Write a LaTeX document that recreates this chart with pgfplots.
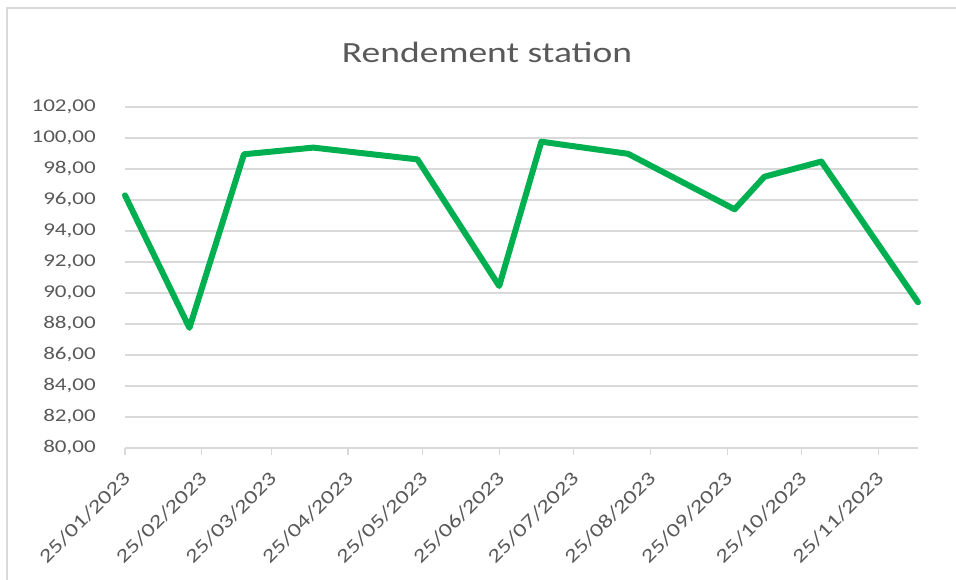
\documentclass[border=0pt]{standalone}
\usepackage{pgfplots}
\pgfplotsset{compat=1.18}
\usepackage{fontspec}
\setmainfont{Carlito}[FakeStretch=1.28]

\definecolor{txt}{RGB}{89,89,89}
\definecolor{gridc}{RGB}{217,217,217}
\definecolor{xlgreen}{RGB}{0,176,80}

% days counted from 25/01/2023
\pgfplotstableread{
day  rend
0    96.30
26   87.75
48   98.95
76   99.38
118  98.62
151  90.45
168  99.76
203  98.98
246  95.40
258  97.50
281  98.48
320  89.40
}\rendement

\begin{document}
\begin{tikzpicture}
\useasboundingbox (-93.75pt,-99pt) rectangle (623.25pt,336pt);
\draw[gridc, line width=1.2pt] (-88.5pt,-99pt) -- (-88.5pt,330pt) -- (623.25pt,330pt);
\node[font=\fontsize{22}{26}\selectfont, text=txt] at (271.5pt,297pt) {Rendement station};
\begin{axis}[
    at={(0,0)}, anchor=south west,
    scale only axis,
    width=594.75pt, height=255.75pt,
    xmin=0, xmax=320,
    ymin=80, ymax=102,
    xtick={0,31,59,90,120,151,181,212,243,273,304},
    xticklabels={25/01/2023,25/02/2023,25/03/2023,25/04/2023,25/05/2023,25/06/2023,25/07/2023,25/08/2023,25/09/2023,25/10/2023,25/11/2023},
    ytick={80,82,...,102},
    axis x line*=bottom,
    axis y line*=left,
    x axis line style={gridc, line width=1pt, -},
    y axis line style={draw=none},
    tick align=outside,
    major tick length=5.25pt,
    xtick style={gridc, line width=1pt},
    ytick style={draw=none},
    ymajorgrids,
    grid style={gridc, line width=1pt},
    every tick label/.append style={text=txt},
    yticklabel style={font=\fontsize{13.5}{16}\selectfont, inner sep=0pt, anchor=east, xshift=-16.5pt,
        /pgf/number format/.cd, fixed, fixed zerofill, precision=2, use comma, assume math mode=true},
    xticklabel style={font=\fontsize{14.5}{17}\selectfont, inner sep=0pt, xshift=1.5pt, yshift=-15pt, rotate=45, anchor=east},
    clip=false,
]
\addplot[xlgreen, line width=4.5pt, line join=round, line cap=round] table[x=day, y=rend] {\rendement};
\end{axis}
\end{tikzpicture}
\end{document}
